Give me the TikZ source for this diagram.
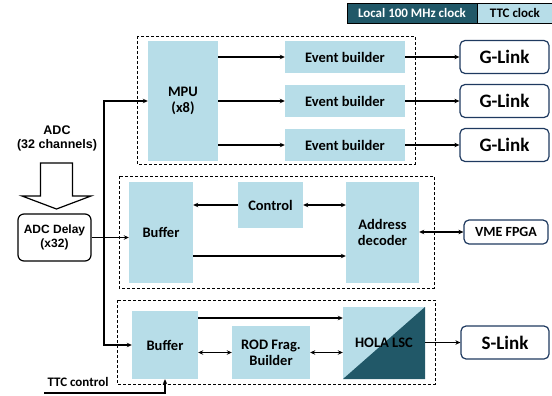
\documentclass[tikz,border=0pt]{standalone}
\usepackage{fontspec}
\setmainfont{Carlito}
\newfontfamily\arialfont{Liberation Sans}
\usetikzlibrary{arrows.meta}
\definecolor{lightaqua}{HTML}{B7DDE8}
\definecolor{darkaqua}{HTML}{215868}
\definecolor{linkblue}{HTML}{1F3A60}

\begin{document}
\begin{tikzpicture}[x=1pt,y=-1pt,
    blk/.style={fill=lightaqua, inner sep=1pt, align=center, font=\fontsize{14.5}{16}\selectfont\bfseries},
    link/.style={draw=linkblue, line width=1.2pt, rounded corners=5pt, fill=white, font=\fontsize{19}{21}\selectfont\bfseries},
    grp/.style={draw, line width=0.9pt, dash pattern=on 3pt off 2pt},
    arr/.style={line width=1.2pt, -{Stealth[length=5pt,width=4.5pt]}},
    darr/.style={line width=1.2pt, {Stealth[length=5pt,width=4.5pt]}-{Stealth[length=5pt,width=4.5pt]}}]
        \useasboundingbox (0,0) rectangle (552,396);
        % legend
        \node[draw, fill=darkaqua, text=white, minimum width=130, minimum height=20, font=\fontsize{13}{14}\selectfont\bfseries] (lclk) at (412,13) {Local 100 MHz clock};
        \node[draw, fill=lightaqua, minimum width=75, minimum height=20, anchor=west, font=\fontsize{13}{14}\selectfont\bfseries] (tclk) at (lclk.east) {TTC clock};
        % groups
        \draw[grp] (137,36) rectangle (415,164);
        \draw[grp] (119,176) rectangle (434,288);
        \draw[grp] (117,300) rectangle (435,384);
        % input
        \node[align=center, font=\fontsize{12.5}{14}\arialfont\bfseries] (adc) at (57,138) {ADC\\(32 channels)};
        \draw[line width=1.2pt, line join=miter] (40.5,163) -- (72.5,163) -- (72.5,196) -- (91,196) -- (56.5,209) -- (22,196) -- (40.5,196) -- cycle;
        \node[draw, line width=1.2pt, rounded corners=6pt, minimum width=73, minimum height=47, align=center, font=\fontsize{12}{14}\arialfont\bfseries] (adcd) at (54.5,237.5) {ADC Delay\\(x32)};
        % readout path
        \node[blk, minimum width=70, minimum height=120] (mpu) at (183,101) {MPU\\(x8)};
        \foreach \i/\y in {1/57,2/101,3/145}{
            \node[blk, minimum width=120, minimum height=32] (eb\i) at (345,\y) {Event builder};
            \node[link, minimum width=89, minimum height=33] (gl\i) at (504.5,\y) {G-Link};
            \draw[arr] (mpu.east |- eb\i.west) -- (eb\i.west);
            \draw[arr] (eb\i.east) -- (gl\i.west);
        }
        % control path
        \node[blk, minimum width=64, minimum height=101] (bufa) at (161,232.5) {Buffer};
        \node[blk, minimum width=65, minimum height=46] (ctrl) at (270.5,205) {Control};
        \node[blk, minimum width=73, minimum height=101] (addr) at (382.5,232.5) {Address\\decoder};
        \node[link, minimum width=84, minimum height=24, font=\fontsize{14}{16}\selectfont\bfseries] (vme) at (506,232) {VME FPGA};
        \draw[arr] (ctrl.west) -- (bufa.east |- ctrl.west);
        \draw[darr] (ctrl.east) -- (addr.west |- ctrl.east);
        \draw[arr] (bufa.east |- 0,256) -- (addr.west |- 0,256);
        \draw[darr] (vme.west) -- (addr.east |- vme.west);
        % S-Link path
        \node[blk, minimum width=66, minimum height=68] (bufb) at (165,345) {Buffer};
        \node[blk, minimum width=78, minimum height=53] (rod) at (271,352.5) {ROD Frag.\\Builder};
        \node[blk, minimum width=82, minimum height=72, path picture={
            \fill[darkaqua] (path picture bounding box.south west) -- (path picture bounding box.north east) -- (path picture bounding box.south east) -- cycle;}] (hola) at (384,343) {HOLA LSC};
        \node[link, minimum width=88, minimum height=33] (slink) at (505,342.5) {S-Link};
        \draw[arr] (bufb.east |- 0,318) -- (hola.west |- 0,318);
        \draw[darr] (bufb.east |- rod.west) -- (rod.west);
        \draw[darr] (rod.east) -- (hola.west |- rod.east);
        \draw[arr] (hola.east |- slink.west) -- (slink.west);
        % fan-out
        \coordinate (tap) at (104,237.5);
        \draw[arr] (adcd.east) -- (bufa.west |- adcd.east);
        \draw[arr] (tap) |- (mpu.west);
        \draw[arr] (tap) |- (bufb.west);
        \node[font=\fontsize{13}{14}\selectfont\bfseries] (ttc) at (78,382) {TTC control};
        \coordinate (ttcin) at (44,393);
        \draw[arr] (ttcin) -| (bufb.south);
    \end{tikzpicture}
\end{document}
